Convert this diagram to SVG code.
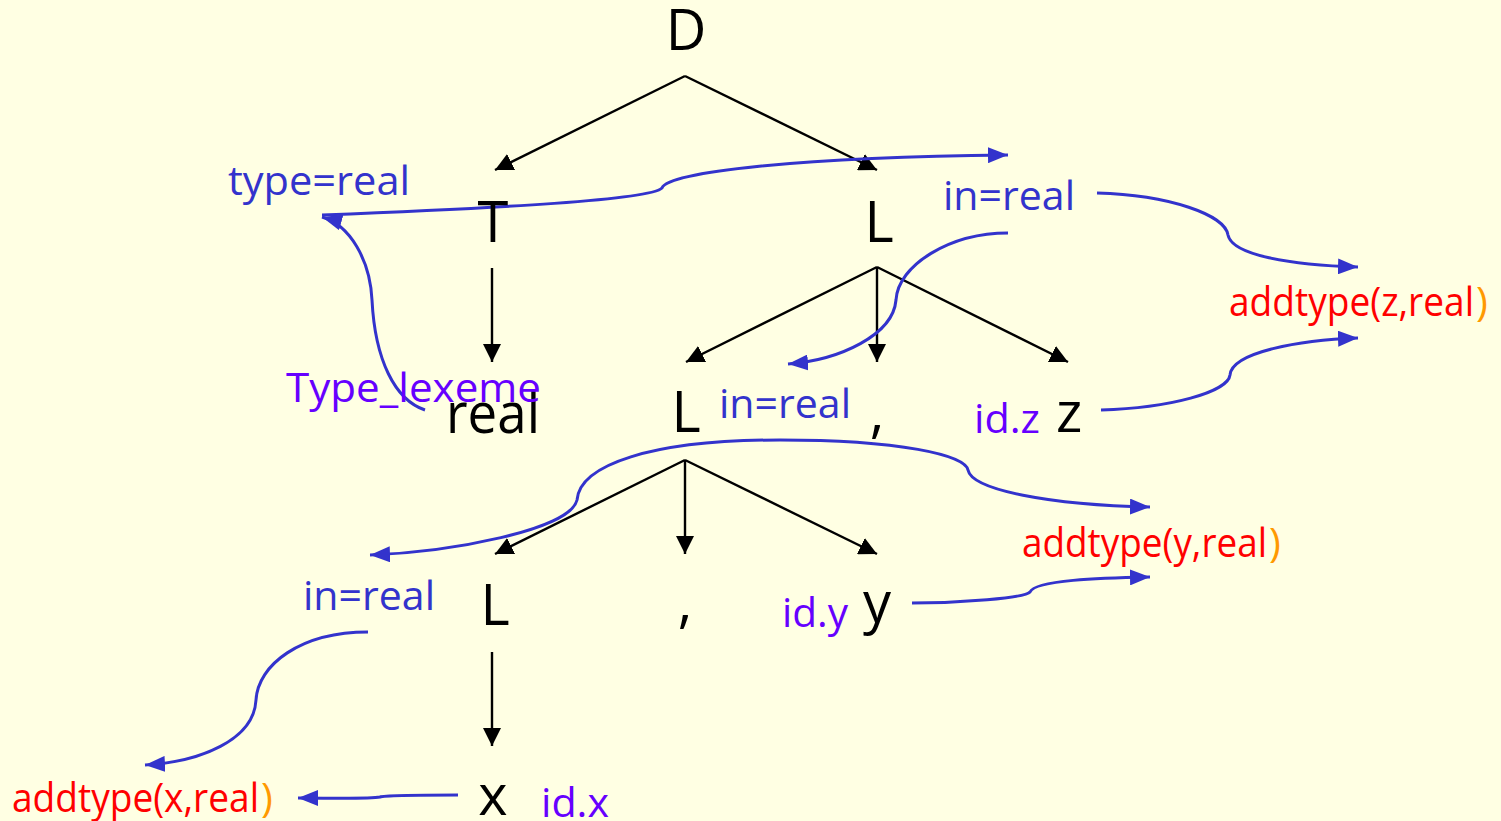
<svg xmlns="http://www.w3.org/2000/svg" width="1501" height="821" viewBox="0 0 1501 821">
<defs>
<style>
.bk{font-family:"Open Sans","Liberation Sans",sans-serif;font-size:56px;fill:#000}
.bl{font-family:"Open Sans","Liberation Sans",sans-serif;font-size:40px;fill:#3333CC}
.pu{font-family:"Open Sans","Liberation Sans",sans-serif;font-size:40px;fill:#6600FF}
.rd{font-family:"Open Sans","Liberation Sans",sans-serif;font-size:40px;fill:#FF0000}
.or{font-family:"Open Sans","Liberation Sans",sans-serif;font-size:40px;fill:#FF9900}
.tl{stroke:#000;stroke-width:2.4;fill:none;marker-end:url(#ah)}
.cv{stroke:#3333CC;stroke-width:3;fill:none;marker-end:url(#bh)}
</style>
<marker id="ah" viewBox="0 0 18 18" refX="18" refY="9" markerWidth="18" markerHeight="18" markerUnits="userSpaceOnUse" orient="auto"><path d="M0,0 L18,9 L0,18 z" fill="#000"/></marker>
<marker id="bh" viewBox="0 0 20 16" refX="20" refY="8" markerWidth="20" markerHeight="16" markerUnits="userSpaceOnUse" orient="auto-start-reverse"><path d="M0,0 L20,8 L0,16 z" fill="#3333CC"/></marker>
</defs>
<rect width="1501" height="821" fill="#FFFFE3"/>
<g id="connectors">
<line class="tl" x1="685" y1="76" x2="495" y2="170"/>
<line class="tl" x1="685" y1="76" x2="877" y2="170"/>
<line class="tl" x1="492" y1="268" x2="492" y2="362"/>
<line class="tl" x1="877" y1="267" x2="686" y2="362"/>
<line class="tl" x1="877" y1="267" x2="877" y2="362"/>
<line class="tl" x1="877" y1="267" x2="1068" y2="362"/>
<line class="tl" x1="685" y1="460" x2="495" y2="554"/>
<line class="tl" x1="685" y1="460" x2="685" y2="554"/>
<line class="tl" x1="685" y1="460" x2="877" y2="554"/>
<line class="tl" x1="492" y1="652" x2="492" y2="746"/>
<path class="cv" d="M322,215 C500,208 650,200 662,188 C668,172 800,157 1008,155"/>
<path class="cv" d="M425,410 C395,400 375,360 372,300 C370,260 350,225 322,217"/>
<path class="cv" d="M1097,193 C1170,195 1225,215 1228,235 C1232,255 1290,265 1358,267"/>
<path class="cv" d="M1008,233 C950,233 898,265 896,300 C893,335 840,360 788,364"/>
<path class="cv" d="M1101,410 C1170,408 1228,392 1230,375 C1232,352 1300,340 1358,338"/>
<path class="cv" style="marker-start:url(#bh)" d="M370,555 C450,552 570,530 577,500 C580,465 650,440 780,440 C900,440 965,455 968,470 C972,490 1050,505 1150,507"/>
<path class="cv" d="M912,603 C960,603 1025,598 1030,592 C1035,580 1100,578 1150,577"/>
<path class="cv" d="M368,632 C300,632 258,665 256,700 C254,740 200,762 145,765"/>
<path class="cv" d="M458,795 C420,795 385,795 380,797 C370,799 330,798 298,798"/>
</g>
<g id="n-D"><text class="bk" x="686" y="50" text-anchor="middle">D</text></g>
<g id="n-T"><text class="bk" x="493" y="242" text-anchor="middle">T</text></g>
<g id="n-L1"><text class="bk" x="879" y="242" text-anchor="middle">L</text></g>
<g id="n-real"><text class="bk" x="446" y="433" textLength="94" lengthAdjust="spacingAndGlyphs">real</text></g>
<g id="n-L2"><text class="bk" x="686" y="432" text-anchor="middle">L</text></g>
<g id="n-comma1"><text class="bk" x="877" y="432" text-anchor="middle">,</text></g>
<g id="n-z"><text class="bk" x="1069" y="432" text-anchor="middle">z</text></g>
<g id="n-L3"><text class="bk" x="495" y="625" text-anchor="middle">L</text></g>
<g id="n-comma2"><text class="bk" x="685" y="622" text-anchor="middle">,</text></g>
<g id="n-y"><text class="bk" x="877" y="622" text-anchor="middle">y</text></g>
<g id="n-x"><text class="bk" x="493" y="815" text-anchor="middle">x</text></g>
<g id="lbl-type"><text class="bl" x="228" y="195" textLength="182" lengthAdjust="spacingAndGlyphs">type=real</text></g>
<g id="lbl-in1"><text class="bl" x="943" y="210" textLength="132" lengthAdjust="spacingAndGlyphs">in=real</text></g>
<g id="lbl-lexeme"><text class="pu" x="286" y="402" textLength="255" lengthAdjust="spacingAndGlyphs">Type_lexeme</text></g>
<g id="lbl-in2"><text class="bl" x="719" y="418" textLength="132" lengthAdjust="spacingAndGlyphs">in=real</text></g>
<g id="lbl-idz"><text class="pu" x="974" y="433" textLength="66" lengthAdjust="spacingAndGlyphs">id.z</text></g>
<g id="lbl-addz"><text class="rd" x="1229" y="316" textLength="245" lengthAdjust="spacingAndGlyphs">addtype(z,real</text><text class="or" x="1476" y="316">)</text></g>
<g id="lbl-in3"><text class="bl" x="303" y="610" textLength="132" lengthAdjust="spacingAndGlyphs">in=real</text></g>
<g id="lbl-idy"><text class="pu" x="782" y="627" textLength="66" lengthAdjust="spacingAndGlyphs">id.y</text></g>
<g id="lbl-addy"><text class="rd" x="1022" y="557" textLength="245" lengthAdjust="spacingAndGlyphs">addtype(y,real</text><text class="or" x="1269" y="557">)</text></g>
<g id="lbl-idx"><text class="pu" x="541" y="817" textLength="68" lengthAdjust="spacingAndGlyphs">id.x</text></g>
<g id="lbl-addx"><text class="rd" x="12" y="812" textLength="247" lengthAdjust="spacingAndGlyphs">addtype(x,real</text><text class="or" x="261" y="812">)</text></g>
</svg>
